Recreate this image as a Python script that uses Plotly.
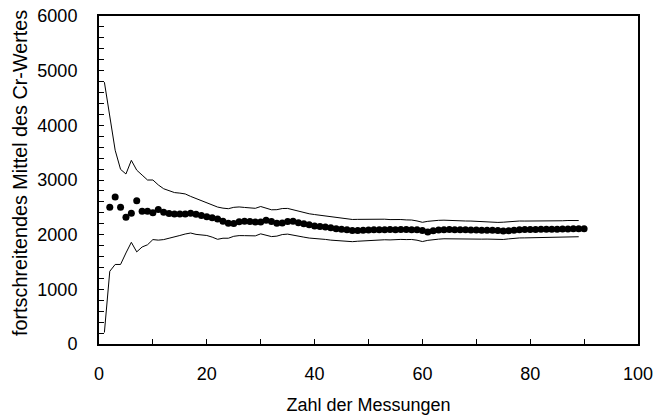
import plotly.graph_objects as go

# x positions
x_band = list(range(1, 90))      # bounds, measurements 1..89
x_mean = list(range(2, 91))      # running mean points 2..90

mean_vals = [
    2500, 2690, 2500, 2320, 2390, 2620, 2430, 2430, 2400, 2460,
    2410, 2385, 2380, 2380, 2380, 2390, 2375, 2350, 2330, 2310,
    2285, 2245, 2210, 2205, 2235, 2245, 2240, 2230, 2230, 2265,
    2240, 2210, 2215, 2240, 2245, 2220, 2200, 2180, 2160, 2150,
    2140, 2125, 2110, 2100, 2090, 2075, 2075, 2080, 2085, 2090,
    2090, 2090, 2095, 2090, 2095, 2095, 2090, 2090, 2075,
    2050, 2070, 2085, 2090, 2095, 2090, 2090, 2090, 2085, 2085,
    2080, 2080, 2080, 2075, 2065, 2070, 2080, 2090, 2095, 2095,
    2095, 2100, 2100, 2100, 2100, 2105, 2105, 2110, 2110, 2110,
]

upper_vals = [
    4790, 4150, 3545, 3195, 3110, 3360, 3180, 3090, 3000, 3000,
    2910, 2840, 2800, 2770, 2760, 2745, 2700, 2660, 2625, 2590,
    2545, 2505, 2485, 2475, 2500, 2507, 2498, 2485, 2482, 2515,
    2487, 2455, 2457, 2478, 2480, 2452, 2428, 2405, 2382, 2368,
    2355, 2337, 2320, 2308, 2295, 2280, 2278, 2280, 2283, 2286,
    2282, 2280, 2283, 2276, 2279, 2277, 2270, 2268, 2251,
    2226, 2244, 2258, 2262, 2265, 2258, 2257, 2256, 2250, 2249,
    2243, 2242, 2241, 2235, 2224, 2228, 2237, 2246, 2250, 2249,
    2248, 2252, 2252, 2251, 2250, 2255, 2254, 2259, 2258, 2258,
]

lower_vals = [
    210, 1330, 1455, 1455, 1665, 1860, 1685, 1775, 1815, 1910,
    1900, 1910, 1935, 1955, 1985, 2012, 2030, 2005, 1990, 1985,
    1955, 1915, 1935, 1935, 1970, 1983, 1982, 1975, 1978, 2015,
    1993, 1965, 1973, 2002, 2010, 1988, 1972, 1955, 1938, 1932,
    1925, 1913, 1900, 1892, 1885, 1870, 1872, 1880, 1887, 1894,
    1898, 1900, 1907, 1904, 1911, 1913, 1910, 1912, 1899,
    1874, 1896, 1912, 1918, 1925, 1922, 1923, 1924, 1920, 1921,
    1917, 1918, 1919, 1915, 1906, 1912, 1923, 1934, 1940, 1941,
    1942, 1948, 1948, 1949, 1950, 1955, 1956, 1961, 1962, 1962,
]

x_title = "Zahl der Messungen"
y_title = "fortschreitendes Mittel des Cr-Wertes"

FONT = "Liberation Sans, Arial, sans-serif"

fig = go.Figure()
fig.add_trace(go.Scatter(x=x_band, y=upper_vals, mode="lines",
                         line=dict(color="black", width=1), showlegend=False,
                         hoverinfo="skip"))
fig.add_trace(go.Scatter(x=x_band, y=lower_vals, mode="lines",
                         line=dict(color="black", width=1), showlegend=False,
                         hoverinfo="skip"))
fig.add_trace(go.Scatter(x=x_mean, y=mean_vals, mode="markers",
                         marker=dict(color="black", size=7), showlegend=False,
                         hoverinfo="skip"))

fig.update_layout(
    width=656, height=417,
    margin=dict(l=99, r=18, t=16, b=73),
    paper_bgcolor="white", plot_bgcolor="white",
    font=dict(family=FONT, size=18, color="black"),
)
fig.update_xaxes(
    range=[0, 100], tickvals=[0, 20, 40, 60, 80, 100],
    ticks="inside", ticklen=5, tickwidth=1.3, tickcolor="black",
    minor=dict(dtick=10, ticks="inside", ticklen=5, tickcolor="black", tickwidth=1.3),
    showline=True, linecolor="black", linewidth=2, mirror=True,
    showgrid=False, zeroline=False, automargin=False,
    ticklabelstandoff=12, ticklabeloverflow="allow",
    title=dict(text=x_title, font=dict(size=18), standoff=16),
    tickfont=dict(size=18),
)
fig.update_yaxes(
    range=[0, 6000], tickvals=[0, 1000, 2000, 3000, 4000, 5000, 6000],
    ticks="inside", ticklen=5, tickwidth=1.3, tickcolor="black",
    minor=dict(dtick=200, ticks="inside", ticklen=5, tickcolor="black", tickwidth=1.3),
    showline=True, linecolor="black", linewidth=2, mirror=True,
    showgrid=False, zeroline=False, automargin=False,
    ticklabelstandoff=16, ticklabeloverflow="allow",
    tickfont=dict(size=18),
)
# y title as annotation, positioned like the reference
fig.add_annotation(
    text=y_title, textangle=-90, showarrow=False,
    xref="paper", yref="paper", x=-0.1456, y=0.52,
    xanchor="center", yanchor="middle",
    font=dict(size=19.8, family=FONT, color="black"),
)

# remove the default 8px body margin so the figure fills the window exactly
fig.write_html("out.html", config={"displayModeBar": False},
               post_script="document.body.style.margin='0';")
